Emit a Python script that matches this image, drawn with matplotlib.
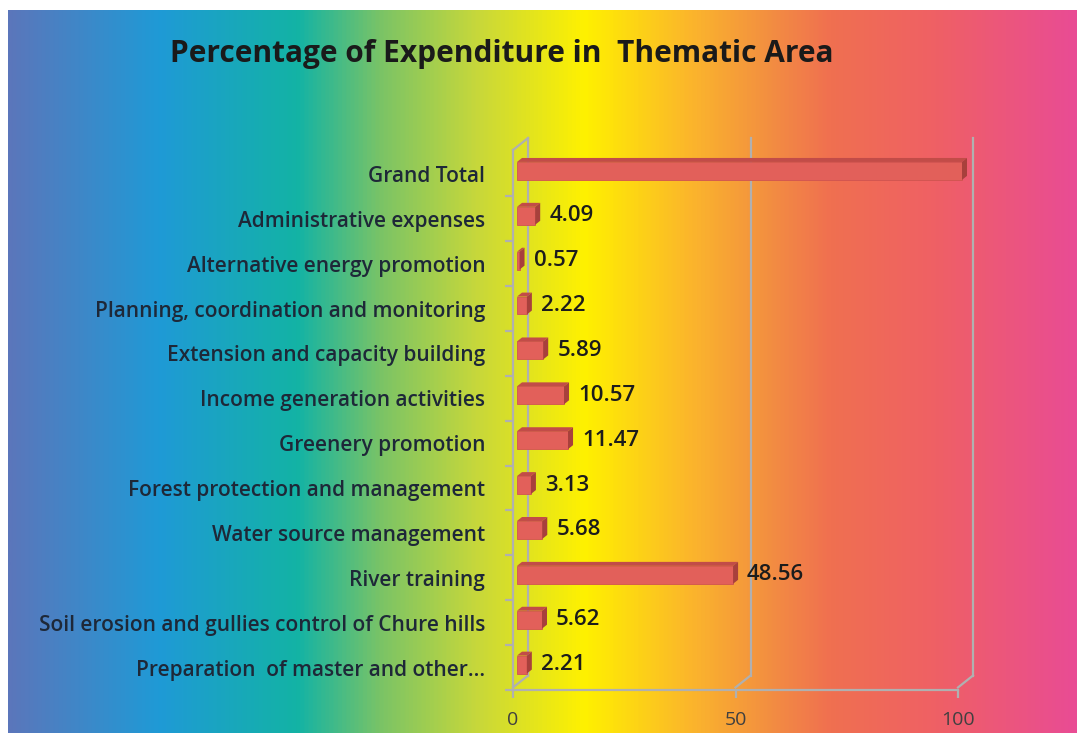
import matplotlib
matplotlib.use("Agg")
import matplotlib.pyplot as plt
import numpy as np
from matplotlib.colors import LinearSegmentedColormap
from matplotlib.patches import Polygon

categories = [
    "Preparation  of master and other...",
    "Soil erosion and gullies control of Chure hills",
    "River training",
    "Water source management",
    "Forest protection and management",
    "Greenery promotion",
    "Income generation activities",
    "Extension and capacity building",
    "Planning, coordination and monitoring",
    "Alternative energy promotion",
    "Administrative expenses",
    "Grand Total",
]
values = [2.21, 5.62, 48.56, 5.68, 3.13, 11.47, 10.57, 5.89, 2.22, 0.57, 4.09, 100]
value_labels = ["2.21", "5.62", "48.56", "5.68", "3.13", "11.47", "10.57", "5.89",
                "2.22", "0.57", "4.09", "100"]
xticks = [0, 50, 100]
title = "Percentage of Expenditure in  Thematic Area"

W, H, DPI = 1077, 733, 100
fig = plt.figure(figsize=(W / DPI, H / DPI), dpi=DPI)
fig.patch.set_facecolor("white")

FONT = "Open Sans"

# gradient background
grad_stops = [
    (0.00, "#5b76bb"), (0.14, "#1f9ad6"), (0.27, "#13b3a5"), (0.35, "#7cc465"),
    (0.44, "#c8d83a"), (0.54, "#fff100"), (0.64, "#fbb52c"), (0.71, "#f39040"),
    (0.77, "#f07050"), (0.87, "#ef6065"), (1.00, "#e94c94"),
]
cmap = LinearSegmentedColormap.from_list("rainbow_bg", grad_stops)
bg = fig.add_axes([8 / W, 0, 1 - 8 / W, 1 - 10 / H])
bg.imshow(np.linspace(0, 1, 512)[None, :], aspect="auto", cmap=cmap,
          extent=[0, 1, 0, 1])
bg.set_axis_off()

# main axes
x0px, x1px = 513, 958
ybot, ytop = 690, 150
ax = fig.add_axes([x0px / W, (H - ybot) / H, (x1px - x0px) / W, (ybot - ytop) / H])
ax.set_facecolor("none")
c_top, c_bot = 174, 670
step = (c_bot - c_top) / 11
ymin = -(ybot - c_bot) / step
ymax = 11 + (c_top - ytop) / step
ax.set_xlim(0, 100)
ax.set_ylim(ymin, ymax)

pxx = 100 / (x1px - x0px)      # data units per pixel (x)
pxy = (ymax - ymin) / (ybot - ytop)  # data units per pixel (y)

grid_c = "#b0b0b0"
# 3D wall / floor lines
dx, dy = 15 * pxx, 12 * pxy
for xv in xticks:
    ax.plot([xv, xv + dx], [ymin, ymin + dy], color=grid_c, lw=1.6, clip_on=False, zorder=1)
    ax.plot([xv + dx, xv + dx], [ymin + dy, ymax + dy], color=grid_c, lw=1.6,
            clip_on=False, zorder=1)
ax.plot([0, dx], [ymax, ymax + dy], color=grid_c, lw=1.6, clip_on=False, zorder=1)

# bars (front faces) + 3D faces
ypos = np.arange(len(categories))
bh = 18 * pxy
shift_x, shift_y = 4 * pxx, 3 * pxy
front = "#e2605a"
top_c = "#c24c48"
side_c = "#a8403c"
ax.barh(ypos + shift_y, values, height=bh, left=shift_x, color=front,
        edgecolor="#d05450", linewidth=0.6, zorder=3, clip_on=False)
ddx, ddy = 5 * pxx, 4 * pxy
for y, v in zip(ypos, values):
    yc = y + shift_y
    xs, xe = shift_x, shift_x + v
    yt, yb = yc + bh / 2, yc - bh / 2
    ax.add_patch(Polygon([(xs, yt), (xe, yt), (xe + ddx, yt + ddy), (xs + ddx, yt + ddy)],
                         closed=True, facecolor=top_c, edgecolor="none", zorder=3,
                         clip_on=False))
    ax.add_patch(Polygon([(xe, yb), (xe + ddx, yb + ddy), (xe + ddx, yt + ddy), (xe, yt)],
                         closed=True, facecolor=side_c, edgecolor="none", zorder=3,
                         clip_on=False))

for y, v, lab in zip(ypos, values, value_labels):
    ax.annotate(lab, xy=(shift_x + v, y + shift_y), xytext=(14 * 0.72, 0),
                textcoords="offset points", va="center", ha="left",
                fontsize=16, fontweight="semibold", color="#1c1c1c",
                family=FONT, clip_on=False, zorder=5)

# axes styling
for s in ["top", "right"]:
    ax.spines[s].set_visible(False)
for s in ["left", "bottom"]:
    ax.spines[s].set_color(grid_c)
    ax.spines[s].set_linewidth(1.6)
    ax.spines[s].set_zorder(2)

ax.set_yticks(ypos)
ax.set_yticklabels(categories, fontsize=15, color="#1e2838", family=FONT,
                   fontweight="semibold")
ax.set_yticks(np.arange(-0.5, 11.5, 1.0), minor=True)
ax.tick_params(axis="y", which="major", length=0, pad=20)
ax.tick_params(axis="y", which="minor", length=6, color=grid_c, width=1.6)
ax.set_xticks(xticks)
ax.set_xticklabels([str(t) for t in xticks], fontsize=14, color="#404040", family=FONT)
ax.tick_params(axis="x", length=6, color=grid_c, width=1.6, pad=9)

fig.text(170 / W, 1 - 54 / H, title, fontsize=21.5, fontweight="bold",
         color="#1a1a1a", family=FONT, ha="left", va="center")

fig.savefig("out.png", dpi=DPI)
